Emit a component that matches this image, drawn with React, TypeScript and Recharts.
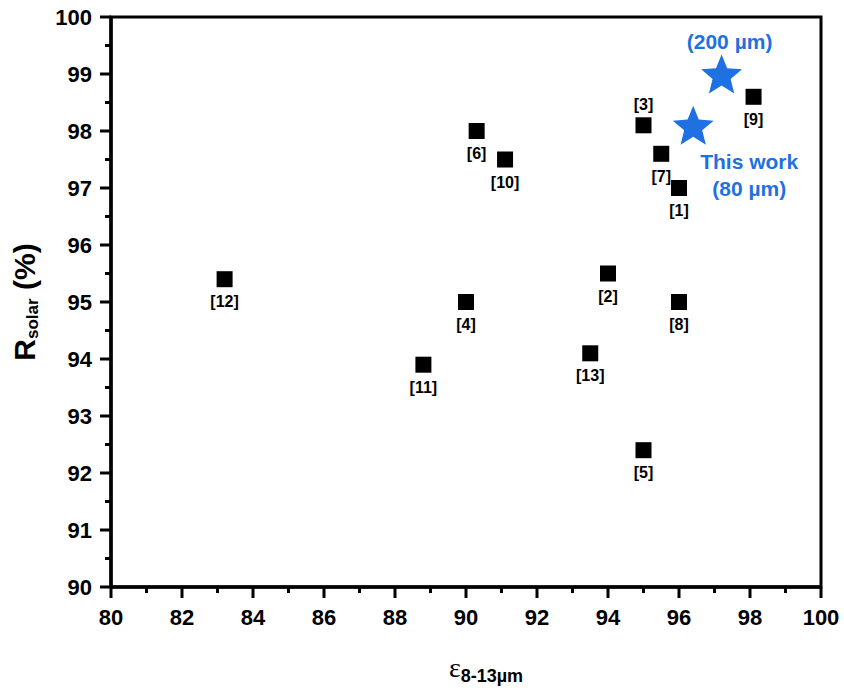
import React from 'react';
import { ScatterChart, Scatter, XAxis, YAxis, ReferenceArea } from 'recharts';

// reference works
const refLabels = ['[1]', '[2]', '[3]', '[4]', '[5]', '[6]', '[7]', '[8]', '[9]', '[10]', '[11]', '[12]', '[13]'];
const refEmissivity = [96.0, 94.0, 95.0, 90.0, 95.0, 90.3, 95.5, 96.0, 98.1, 91.1, 88.8, 83.2, 93.5];
const refReflectance = [97.0, 95.5, 98.1, 95.0, 92.4, 98.0, 97.6, 95.0, 98.6, 97.5, 93.9, 95.4, 94.1];

// this work
const workLabels = ['80 µm', '200 µm'];
const workEmissivity = [96.4, 97.2];
const workReflectance = [98.1, 99.0];

const xTicks = [80, 81, 82, 83, 84, 85, 86, 87, 88, 89, 90, 91, 92, 93, 94, 95, 96, 97, 98, 99, 100];
const yTicks = [90, 90.5, 91, 91.5, 92, 92.5, 93, 93.5, 94, 94.5, 95, 95.5, 96, 96.5, 97, 97.5, 98, 98.5, 99, 99.5, 100];

const FONT = '"Liberation Sans", Arial, sans-serif';
const BLUE = '#1f70e0';

const refData = refLabels.map((label, i) => ({ x: refEmissivity[i], y: refReflectance[i], label }));
const workData = workLabels.map((label, i) => ({ x: workEmissivity[i], y: workReflectance[i], label }));

// labels drawn above the marker instead of below
const labelAbove = ['[3]'];

const XTick = (props: any) => {
  const { x, y, payload } = props;
  const v = payload.value;
  const major = v % 2 === 0;
  return (
    <g>
      <line x1={x} x2={x} y1={y} y2={y + (major ? 11 : 6)} stroke="#000" strokeWidth={3} />
      {major && (
        <text x={x} y={y + 38} textAnchor="middle" fontSize={22} fontWeight="bold" fontFamily={FONT} fill="#000">
          {v}
        </text>
      )}
    </g>
  );
};

const YTick = (props: any) => {
  const { x, y, payload } = props;
  const v = payload.value;
  const major = Number.isInteger(v);
  return (
    <g>
      <line x1={x - (major ? 11 : 6)} x2={x} y1={y} y2={y} stroke="#000" strokeWidth={3} />
      {major && (
        <text x={x - 19} y={y + 8} textAnchor="end" fontSize={22} fontWeight="bold" fontFamily={FONT} fill="#000">
          {v}
        </text>
      )}
    </g>
  );
};

const SquareMark = (props: any) => {
  const { cx, cy, payload } = props;
  const above = labelAbove.includes(payload.label);
  return (
    <g>
      <rect x={cx - 8} y={cy - 8} width={16} height={16} fill="#000" />
      <text
        x={cx}
        y={above ? cy - 15 : cy + 28}
        textAnchor="middle"
        fontSize={16}
        fontWeight="bold"
        fontFamily={FONT}
        fill="#000"
      >
        {payload.label}
      </text>
    </g>
  );
};

const StarMark = (props: any) => {
  const { cx, cy, payload } = props;
  const R = 21.5;
  const r = 9.5;
  const pts: string[] = [];
  for (let k = 0; k < 10; k++) {
    const rad = k % 2 === 0 ? R : r;
    const a = -Math.PI / 2 + (k * Math.PI) / 5;
    pts.push(`${cx + rad * Math.cos(a)},${cy + 2 + rad * Math.sin(a)}`);
  }
  const isThin = payload.label === '80 µm';
  return (
    <g>
      <polygon points={pts.join(' ')} fill={BLUE} />
      {isThin ? (
        <g fontSize={21} fontWeight="bold" fontFamily={FONT} fill={BLUE} textAnchor="middle">
          <text x={cx + 56} y={cy + 44}>This work</text>
          <text x={cx + 56} y={cy + 71}>({payload.label})</text>
        </g>
      ) : (
        <text x={cx + 8} y={cy - 25} fontSize={21} fontWeight="bold" fontFamily={FONT} fill={BLUE} textAnchor="middle">
          ({payload.label})
        </text>
      )}
    </g>
  );
};

const YTitle = () => (
  <text transform="translate(35,302) rotate(-90)" textAnchor="middle" fontWeight="bold" fontFamily={FONT} fill="#000">
    <tspan fontSize={30}>R</tspan>
    <tspan fontSize={17} dy={3}>solar</tspan>
    <tspan fontSize={30} dy={-3}> (%)</tspan>
  </text>
);

const XTitle = () => (
  <text x={486} y={677} textAnchor="middle" fill="#000">
    <tspan fontSize={28} fontFamily='"Liberation Serif", "Times New Roman", serif'>ε</tspan>
    <tspan fontSize={18} fontWeight="bold" fontFamily={FONT} dy={5}>8-13µm</tspan>
  </text>
);

export default function App() {
  return (
    <div style={{ position: 'absolute', left: 0, top: 0, background: '#fff' }}>
      <ScatterChart width={844} height={693} margin={{ top: 17, right: 23, bottom: 46, left: 0 }}>
        <ReferenceArea x1={80} x2={100} y1={90} y2={100} fill="none" stroke="#000" strokeWidth={3} />
        <XAxis
          type="number"
          dataKey="x"
          domain={[80, 100]}
          ticks={xTicks}
          interval={0}
          height={60}
          tickSize={0}
          tickMargin={0}
          tickLine={false}
          tick={<XTick />}
          axisLine={{ stroke: '#000', strokeWidth: 3.5 }}
          label={<XTitle />}
        />
        <YAxis
          type="number"
          dataKey="y"
          domain={[90, 100]}
          ticks={yTicks}
          interval={0}
          width={111}
          tickSize={0}
          tickMargin={0}
          tickLine={false}
          tick={<YTick />}
          axisLine={{ stroke: '#000', strokeWidth: 3.5 }}
          label={<YTitle />}
        />
        <Scatter data={refData} shape={<SquareMark />} isAnimationActive={false} />
        <Scatter data={workData} shape={<StarMark />} isAnimationActive={false} />
      </ScatterChart>
    </div>
  );
}
